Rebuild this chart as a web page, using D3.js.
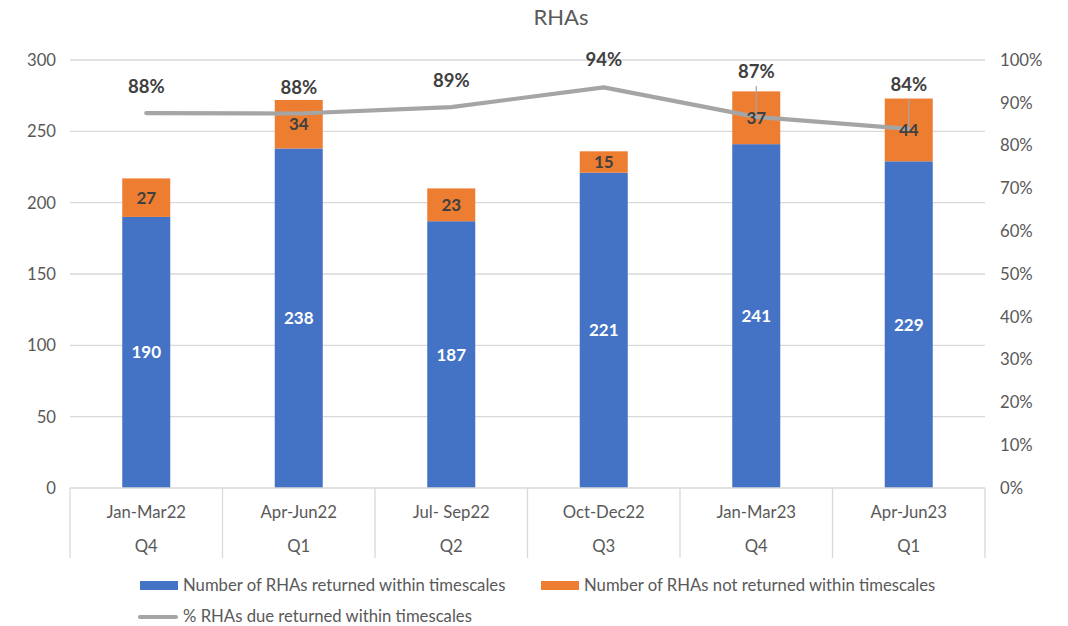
<!DOCTYPE html>
<html>
<head>
<meta charset="utf-8">
<script src="https://cdn.jsdelivr.net/npm/d3@7"></script>
<style>
  body { margin: 0; background: #fff; }
  text { font-family: Lato, "Open Sans", sans-serif; }
</style>
</head>
<body>
<svg id="chart" width="1068" height="626"></svg>
<script>
// data
var periods = ["Jan-Mar22", "Apr-Jun22", "Jul- Sep22", "Oct-Dec22", "Jan-Mar23", "Apr-Jun23"];
var quarters = ["Q4", "Q1", "Q2", "Q3", "Q4", "Q1"];
var returnedOnTime = [190, 238, 187, 221, 241, 229];
var notReturned = [27, 34, 23, 15, 37, 44];
var pctReturned = [87.6, 87.5, 89.0, 93.6, 86.7, 83.9];
var leftTicks = [0, 50, 100, 150, 200, 250, 300];
var rightTicks = [0, 10, 20, 30, 40, 50, 60, 70, 80, 90, 100];

// label lift above the line point (px), last two have leader lines
var pctLabelLift = [26, 26, 26, 27, 45, 44];

function drawChart() {
  var svg = d3.select("#chart");
  var plotLeft = 70, plotRight = 985, plotTop = 60, plotBottom = 488;
  var fs = "16.7px";

  var x = d3.scaleBand().domain(d3.range(periods.length)).range([plotLeft, plotRight]);
  var y = d3.scaleLinear().domain([0, 300]).range([plotBottom, plotTop]);
  var y2 = d3.scaleLinear().domain([0, 100]).range([plotBottom, plotTop]);
  var barW = 48;
  var cx = function(i) { return x(i) + x.bandwidth() / 2; };

  // title
  svg.append("text").attr("x", 561).attr("y", 25).attr("text-anchor", "middle")
    .style("font-size", "22px").style("fill", "#595959").text("RHAs");

  // gridlines
  svg.append("g").selectAll("line").data(leftTicks.slice(1)).enter().append("line")
    .attr("x1", plotLeft).attr("x2", plotRight)
    .attr("y1", function(d) { return y(d); }).attr("y2", function(d) { return y(d); })
    .style("stroke", "#d9d9d9").style("stroke-width", 1.3);

  // left axis
  var gl = svg.append("g").attr("transform", "translate(" + plotLeft + ",0)")
    .call(d3.axisLeft(y).tickValues(leftTicks).tickSize(0).tickPadding(14));
  gl.select(".domain").remove();
  gl.selectAll("text").style("font-size", fs).style("fill", "#595959").style("font-family", "Lato, sans-serif");

  // right axis
  var gr = svg.append("g").attr("transform", "translate(" + plotRight + ",0)")
    .call(d3.axisRight(y2).tickValues(rightTicks).tickSize(0).tickPadding(15)
      .tickFormat(function(d) { return d + "%"; }));
  gr.select(".domain").remove();
  gr.selectAll("text").style("font-size", fs).style("fill", "#595959").style("font-family", "Lato, sans-serif");

  // stacked bars
  var bars = svg.append("g");
  bars.selectAll(".blue").data(returnedOnTime).enter().append("rect")
    .attr("x", function(d, i) { return cx(i) - barW / 2; })
    .attr("width", barW)
    .attr("y", function(d) { return y(d); })
    .attr("height", function(d) { return y(0) - y(d); })
    .style("fill", "#4472c4");
  bars.selectAll(".orange").data(notReturned).enter().append("rect")
    .attr("x", function(d, i) { return cx(i) - barW / 2; })
    .attr("width", barW)
    .attr("y", function(d, i) { return y(returnedOnTime[i] + d); })
    .attr("height", function(d, i) { return y(returnedOnTime[i]) - y(returnedOnTime[i] + d); })
    .style("fill", "#ed7d31");

  // category axis box
  var cat = svg.append("g");
  cat.append("line").attr("x1", plotLeft).attr("x2", plotRight).attr("y1", plotBottom).attr("y2", plotBottom)
    .style("stroke", "#d9d9d9").style("stroke-width", 1.3);
  cat.selectAll(".sep").data(d3.range(periods.length + 1)).enter().append("line")
    .attr("x1", function(d) { return plotLeft + d * x.bandwidth(); })
    .attr("x2", function(d) { return plotLeft + d * x.bandwidth(); })
    .attr("y1", plotBottom).attr("y2", 558)
    .style("stroke", "#d9d9d9").style("stroke-width", 1.3);
  cat.selectAll(".per").data(periods).enter().append("text")
    .attr("x", function(d, i) { return cx(i); })
    .attr("y", 518).attr("text-anchor", "middle")
    .style("font-size", fs).style("fill", "#595959").text(function(d) { return d; });
  cat.selectAll(".qtr").data(quarters).enter().append("text")
    .attr("x", function(d, i) { return cx(i); })
    .attr("y", 552).attr("text-anchor", "middle")
    .style("font-size", fs).style("fill", "#595959").text(function(d) { return d; });

  // leader lines for shifted labels
  svg.append("g").selectAll("line").data(d3.range(pctReturned.length).filter(function(i) { return pctLabelLift[i] > 35; }))
    .enter().append("line")
    .attr("x1", function(i) { return cx(i); })
    .attr("x2", function(i) { return cx(i); })
    .attr("y1", function(i) { return y2(pctReturned[i]) - pctLabelLift[i] + 14; })
    .attr("y2", function(i) { return y2(pctReturned[i]) - 2; })
    .style("stroke", "#a5a5a5").style("stroke-width", 1.2);

  // percent line
  var line = d3.line().x(function(d, i) { return cx(i); }).y(function(d) { return y2(d); });
  svg.append("path").datum(pctReturned).attr("d", line)
    .style("fill", "none").style("stroke", "#a5a5a5").style("stroke-width", 4.2)
    .style("stroke-linecap", "round").style("stroke-linejoin", "round");

  // segment labels
  svg.append("g").selectAll("text").data(returnedOnTime).enter().append("text")
    .attr("x", function(d, i) { return cx(i); })
    .attr("y", function(d) { return y(d / 2) + 6; })
    .attr("text-anchor", "middle").style("font-size", "17px").style("font-weight", "bold")
    .style("fill", "#ffffff").text(function(d) { return d; });
  svg.append("g").selectAll("text").data(notReturned).enter().append("text")
    .attr("x", function(d, i) { return cx(i); })
    .attr("y", function(d, i) { return y(returnedOnTime[i] + d / 2) + 6; })
    .attr("text-anchor", "middle").style("font-size", "17px").style("font-weight", "bold")
    .style("fill", "#404040").text(function(d) { return d; });

  // percent labels
  svg.append("g").selectAll("text").data(pctReturned).enter().append("text")
    .attr("x", function(d, i) { return cx(i); })
    .attr("y", function(d, i) { return y2(d) - pctLabelLift[i] + 6; })
    .attr("text-anchor", "middle").style("font-size", "18.5px").style("font-weight", "bold")
    .style("fill", "#404040").text(function(d) { return Math.round(d) + "%"; });

  // legend
  var lg = svg.append("g");
  lg.append("rect").attr("x", 140).attr("y", 581).attr("width", 38).attr("height", 9).style("fill", "#4472c4");
  lg.append("text").attr("x", 183).attr("y", 591).style("font-size", fs).style("fill", "#595959")
    .text("Number of RHAs returned within timescales");
  lg.append("rect").attr("x", 541).attr("y", 581).attr("width", 38).attr("height", 9).style("fill", "#ed7d31");
  lg.append("text").attr("x", 584).attr("y", 591).style("font-size", fs).style("fill", "#595959")
    .text("Number of RHAs not returned within timescales");
  lg.append("line").attr("x1", 140).attr("x2", 176).attr("y1", 617).attr("y2", 617)
    .style("stroke", "#a5a5a5").style("stroke-width", 4.2).style("stroke-linecap", "round");
  lg.append("text").attr("x", 183).attr("y", 622).style("font-size", fs).style("fill", "#595959")
    .text("% RHAs due returned within timescales");
}

drawChart();
</script>
</body>
</html>
